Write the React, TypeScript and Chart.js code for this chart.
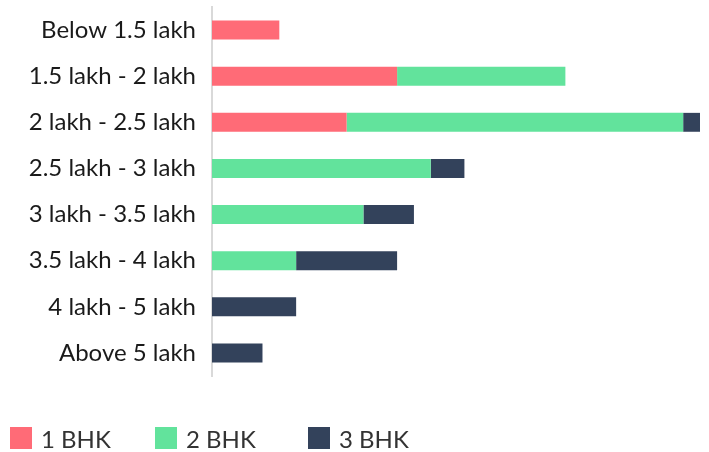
import React, { useEffect, useRef } from "react";
import { Chart, registerables } from "chart.js";

Chart.register(...registerables);

const categories = [
  "Below 1.5 lakh",
  "1.5 lakh - 2 lakh",
  "2 lakh - 2.5 lakh",
  "2.5 lakh - 3 lakh",
  "3 lakh - 3.5 lakh",
  "3.5 lakh - 4 lakh",
  "4 lakh - 5 lakh",
  "Above 5 lakh",
];
const oneBHK = [4, 11, 8, 0, 0, 0, 0, 0];
const twoBHK = [0, 10, 20, 13, 9, 5, 0, 0];
const threeBHK = [0, 0, 1, 2, 3, 6, 5, 3];
const seriesNames = ["1 BHK", "2 BHK", "3 BHK"];
const seriesColors = ["#FF6B77", "#62E39C", "#33425B"];

export default function App() {
  const ref = useRef<HTMLCanvasElement | null>(null);
  useEffect(() => {
    document.body.style.margin = "0";
    const ctx = ref.current!;
    const chart = new Chart(ctx, {
      type: "bar",
      data: {
        labels: categories,
        datasets: [oneBHK, twoBHK, threeBHK].map((d, i) => ({
          label: seriesNames[i],
          data: d,
          backgroundColor: seriesColors[i],
          borderWidth: 0,
          barPercentage: 0.41,
          categoryPercentage: 1,
        })),
      },
      options: {
        indexAxis: "y",
        animation: false,
        responsive: false,
        maintainAspectRatio: false,
        layout: { padding: { top: 7, bottom: 76, right: 9, left: 0 } },
        plugins: { legend: { display: false }, tooltip: { enabled: false } },
        scales: {
          x: { stacked: true, display: false, min: 0, max: 29 },
          y: {
            stacked: true,
            grid: { display: false, drawTicks: false },
            border: { display: true, color: "#D9D9D9", width: 2 },
            ticks: {
              padding: 16,
              color: "#1a1a1a",
              font: { family: "Lato", size: 24 },
            },
            afterFit: (s: any) => {
              s.width = 212;
              s.paddingTop = 0;
              s.paddingBottom = 0;
            },
          },
        },
      },
    });
    return () => chart.destroy();
  }, []);

  const legendX = [10, 155, 308];
  return (
    <div style={{ position: "relative", width: 709, height: 452 }}>
      <canvas ref={ref} width={709} height={452} style={{ display: "block" }} />
      {seriesNames.map((n, i) => (
        <div
          key={n}
          style={{
            position: "absolute",
            left: legendX[i],
            top: 427,
            height: 22,
            display: "flex",
            alignItems: "center",
            fontFamily: "Lato",
            fontSize: 24,
            color: "#333",
            whiteSpace: "nowrap",
          }}
        >
          <span
            style={{
              display: "inline-block",
              width: 22,
              height: 22,
              background: seriesColors[i],
              marginRight: 9,
            }}
          />
          <span>{n}</span>
        </div>
      ))}
    </div>
  );
}
